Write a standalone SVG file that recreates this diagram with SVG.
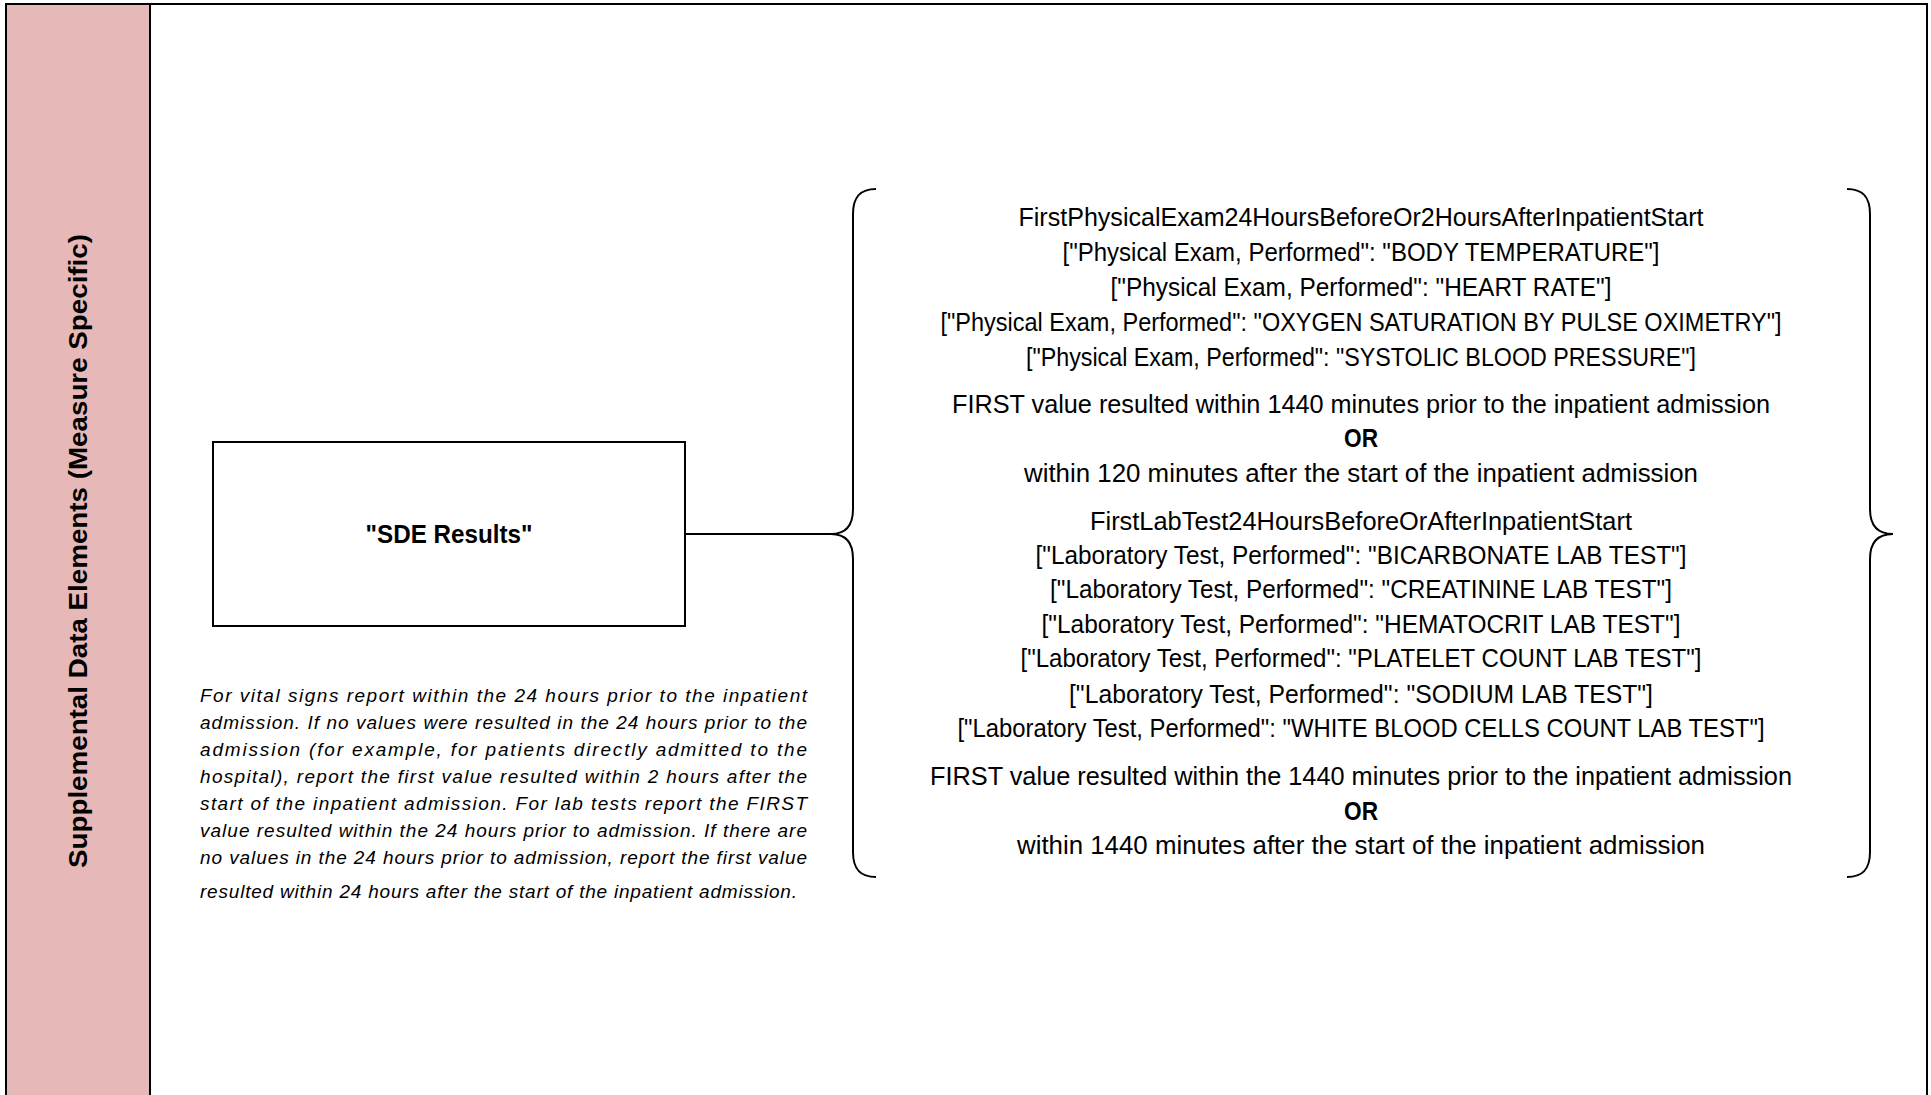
<svg xmlns="http://www.w3.org/2000/svg" width="1931" height="1095" viewBox="0 0 1931 1095">
<style>
.ln{fill:none;stroke:#000;stroke-width:2}
.t{font-family:"Liberation Sans",Arial,sans-serif;font-size:25px;fill:#000;text-anchor:middle}
.b{font-weight:bold}
.it{font-family:"Liberation Sans",Arial,sans-serif;font-size:19px;font-style:italic;fill:#000}
</style>
<rect x="0" y="0" width="1931" height="1095" fill="#fff"/>
<g id="lane">
<rect x="6" y="4" width="144" height="1100" fill="#E6B8B7" stroke="#000" stroke-width="2"/>
<rect x="6" y="4" width="1921" height="1100" class="ln"/>
<text class="t b" font-size="27" transform="translate(87,551) rotate(-90)" x="0" y="0" textLength="634" lengthAdjust="spacingAndGlyphs">Supplemental Data Elements (Measure Specific)</text>
</g>
<g id="connectors">
<path class="ln" d="M685,534 L831,534"/>
</g>
<g id="sde-results">
<rect x="213" y="442" width="472" height="184" fill="#fff" stroke="#000" stroke-width="2"/>
<text class="t b" font-size="27" x="449" y="543" textLength="167" lengthAdjust="spacingAndGlyphs">"SDE Results"</text>
</g>
<g id="note">
<text class="it" x="200" y="702" textLength="607" lengthAdjust="spacing">For vital signs report within the 24 hours prior to the inpatient</text>
<text class="it" x="200" y="729" textLength="607" lengthAdjust="spacing">admission. If no values were resulted in the 24 hours prior to the</text>
<text class="it" x="200" y="756" textLength="607" lengthAdjust="spacing">admission (for example, for patients directly admitted to the</text>
<text class="it" x="200" y="783" textLength="607" lengthAdjust="spacing">hospital), report the first value resulted within 2 hours after the</text>
<text class="it" x="200" y="810" textLength="607" lengthAdjust="spacing">start of the inpatient admission. For lab tests report the FIRST</text>
<text class="it" x="200" y="837" textLength="607" lengthAdjust="spacing">value resulted within the 24 hours prior to admission. If there are</text>
<text class="it" x="200" y="864" textLength="607" lengthAdjust="spacing">no values in the 24 hours prior to admission, report the first value</text>
<text class="it" x="200" y="898" textLength="597" lengthAdjust="spacing">resulted within 24 hours after the start of the inpatient admission.</text>
</g>
<g id="criteria">
<path class="ln" d="M876,189 C860,189 853,197 853,214 L853,509 C853,526 845,534 831,534 C845,534 853,542 853,559 L853,852 C853,869 860,877 876,877"/>
<path class="ln" d="M1847,189 C1863,189 1870,197 1870,214 L1870,509 C1870,526 1878,534 1893,534 C1878,534 1870,542 1870,559 L1870,852 C1870,869 1863,877 1847,877"/>
<text class="t" x="1361" y="226" textLength="685" lengthAdjust="spacingAndGlyphs">FirstPhysicalExam24HoursBeforeOr2HoursAfterInpatientStart</text>
<text class="t" x="1361" y="261" textLength="597" lengthAdjust="spacingAndGlyphs">["Physical Exam, Performed": "BODY TEMPERATURE"]</text>
<text class="t" x="1361" y="296" textLength="501" lengthAdjust="spacingAndGlyphs">["Physical Exam, Performed": "HEART RATE"]</text>
<text class="t" x="1361" y="331" textLength="841" lengthAdjust="spacingAndGlyphs">["Physical Exam, Performed": "OXYGEN SATURATION BY PULSE OXIMETRY"]</text>
<text class="t" x="1361" y="366" textLength="670" lengthAdjust="spacingAndGlyphs">["Physical Exam, Performed": "SYSTOLIC BLOOD PRESSURE"]</text>
<text class="t" x="1361" y="413" textLength="818" lengthAdjust="spacingAndGlyphs">FIRST value resulted within 1440 minutes prior to the inpatient admission</text>
<text class="t b" x="1361" y="447" textLength="34" lengthAdjust="spacingAndGlyphs">OR</text>
<text class="t" x="1361" y="482" textLength="674" lengthAdjust="spacingAndGlyphs">within 120 minutes after the start of the inpatient admission</text>
<text class="t" x="1361" y="530" textLength="542" lengthAdjust="spacingAndGlyphs">FirstLabTest24HoursBeforeOrAfterInpatientStart</text>
<text class="t" x="1361" y="564" textLength="651" lengthAdjust="spacingAndGlyphs">["Laboratory Test, Performed": "BICARBONATE LAB TEST"]</text>
<text class="t" x="1361" y="598" textLength="622" lengthAdjust="spacingAndGlyphs">["Laboratory Test, Performed": "CREATININE LAB TEST"]</text>
<text class="t" x="1361" y="633" textLength="639" lengthAdjust="spacingAndGlyphs">["Laboratory Test, Performed": "HEMATOCRIT LAB TEST"]</text>
<text class="t" x="1361" y="667" textLength="681" lengthAdjust="spacingAndGlyphs">["Laboratory Test, Performed": "PLATELET COUNT LAB TEST"]</text>
<text class="t" x="1361" y="703" textLength="584" lengthAdjust="spacingAndGlyphs">["Laboratory Test, Performed": "SODIUM LAB TEST"]</text>
<text class="t" x="1361" y="737" textLength="807" lengthAdjust="spacingAndGlyphs">["Laboratory Test, Performed": "WHITE BLOOD CELLS COUNT LAB TEST"]</text>
<text class="t" x="1361" y="785" textLength="862" lengthAdjust="spacingAndGlyphs">FIRST value resulted within the 1440 minutes prior to the inpatient admission</text>
<text class="t b" x="1361" y="820" textLength="34" lengthAdjust="spacingAndGlyphs">OR</text>
<text class="t" x="1361" y="854" textLength="688" lengthAdjust="spacingAndGlyphs">within 1440 minutes after the start of the inpatient admission</text>
</g>
</svg>
